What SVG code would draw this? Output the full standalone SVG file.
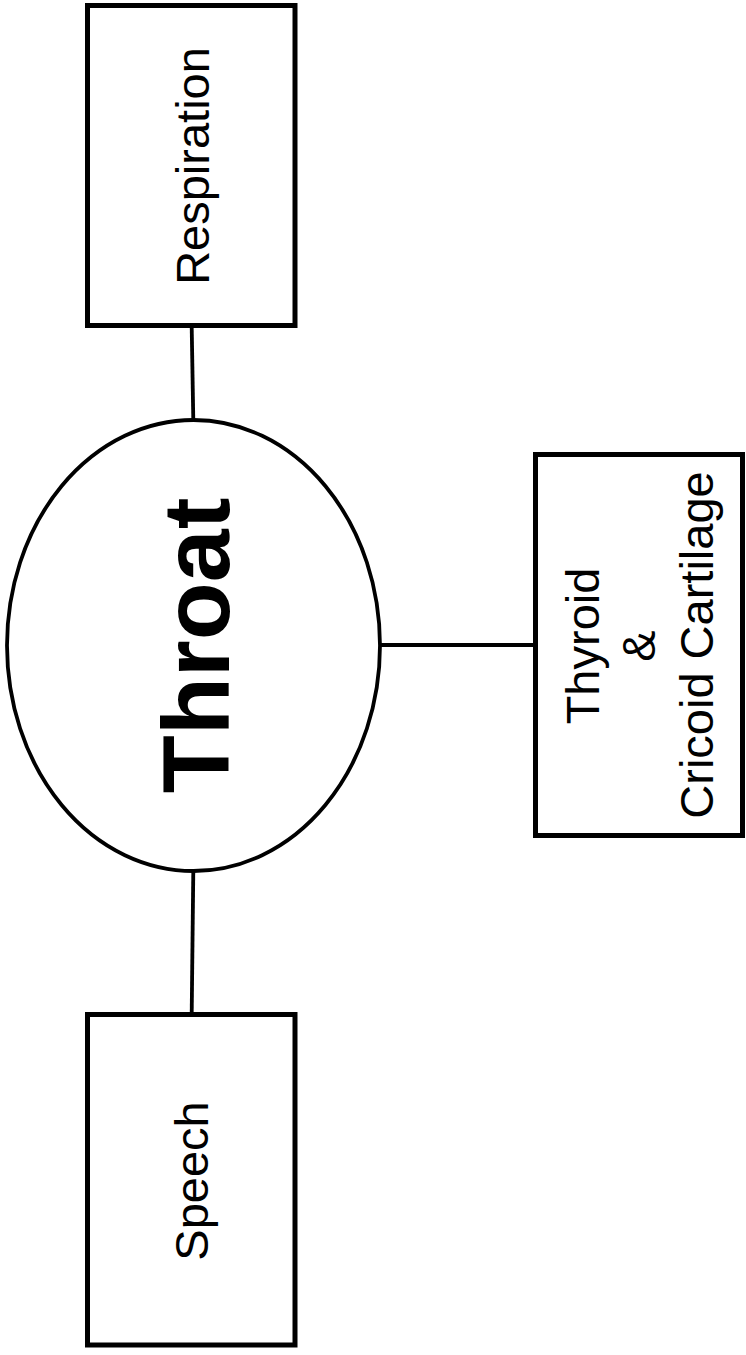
<svg xmlns="http://www.w3.org/2000/svg" width="746" height="1355" viewBox="0 0 746 1355">
<style>
.box{fill:#fff;stroke:#000;stroke-width:5}
.ell{fill:#fff;stroke:#000;stroke-width:3.8}
.con{stroke:#000;stroke-width:3.8;fill:none}
.lbl{font-family:"Liberation Sans",Arial,sans-serif;font-size:47px;fill:#000;text-anchor:middle}
.title{font-family:"Liberation Sans",Arial,sans-serif;font-size:95px;font-weight:bold;fill:#000;text-anchor:middle}
</style>
<rect width="746" height="1355" fill="#fff"/>
<g id="connectors">
<line class="con" x1="191.7" y1="327" x2="193.3" y2="420"/>
<line class="con" x1="380" y1="645" x2="535" y2="645"/>
<line class="con" x1="193.3" y1="871" x2="191.7" y2="1014"/>
</g>
<g id="respiration">
<rect class="box" x="87.5" y="5.5" width="207.5" height="320"/>
<text class="lbl" transform="translate(209,166) rotate(-90)">Respiration</text>
</g>
<g id="throat">
<ellipse class="ell" cx="193.5" cy="645.5" rx="186.5" ry="225.5"/>
<text class="title" transform="translate(229,645.5) rotate(-90)">Throat</text>
</g>
<g id="thyroid">
<rect class="box" x="535.5" y="454.5" width="207" height="381"/>
<text class="lbl" transform="translate(599,646) rotate(-90)">Thyroid</text>
<text class="lbl" transform="translate(655,646) rotate(-90)">&amp;</text>
<text class="lbl" transform="translate(713,645) rotate(-90)">Cricoid Cartilage</text>
</g>
<g id="speech">
<rect class="box" x="87.5" y="1014.5" width="207.5" height="330.5"/>
<text class="lbl" transform="translate(208,1181) rotate(-90)">Speech</text>
</g>
</svg>
